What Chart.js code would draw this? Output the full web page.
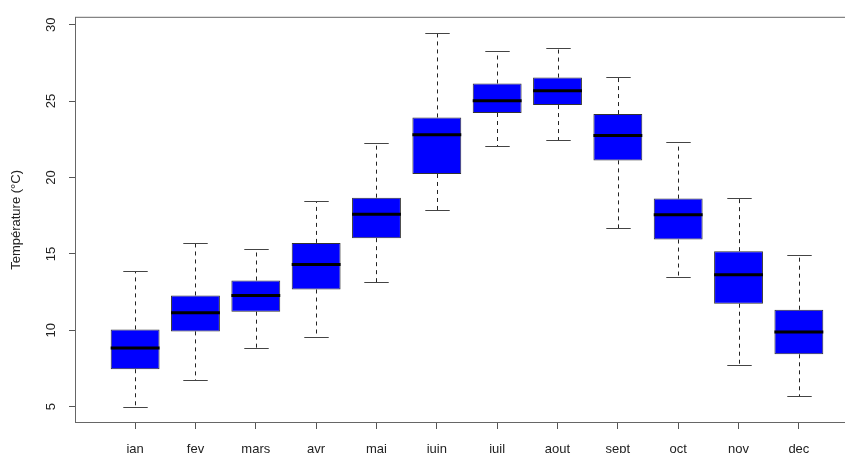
<!DOCTYPE html>
<html lang="fr">

<head>
  <meta charset="UTF-8">
  <title>Température mensuelle</title>
  <style>
    html, body {
      margin: 0;
      padding: 0;
      background: #ffffff;
      overflow: hidden;
    }

    #wrap {
      width: 845px;
      height: 453px;
      overflow: hidden;
    }
  </style>
</head>

<body>
  <div id="wrap">
    <canvas id="boxChart" width="858" height="453"></canvas>
  </div>

  <script src="https://cdn.jsdelivr.net/npm/chart.js"></script>

  <script>
    /* données */
    const months = ['jan', 'fev', 'mars', 'avr', 'mai', 'juin', 'juil', 'aout', 'sept', 'oct', 'nov', 'dec']
    const mins = [5.01, 6.73, 8.84, 9.59, 13.15, 17.85, 22.06, 22.43, 16.70, 13.50, 7.73, 5.71]
    const q1s = [7.45, 9.93, 11.22, 12.67, 16.03, 20.23, 24.22, 24.74, 21.12, 15.94, 11.74, 8.43]
    const medians = [8.84, 11.15, 12.28, 14.31, 17.59, 22.80, 25.02, 25.67, 22.75, 17.57, 13.63, 9.89]
    const q3s = [10.06, 12.28, 13.26, 15.72, 18.68, 23.93, 26.15, 26.54, 24.15, 18.62, 15.18, 11.35]
    const maxs = [13.85, 15.72, 15.35, 18.44, 22.23, 29.46, 28.29, 28.46, 26.59, 22.34, 18.68, 14.92]
    const yTicks = [5, 10, 15, 20, 25, 30]

    Chart.defaults.font.family = "'Liberation Sans', Arial, sans-serif"
    Chart.defaults.font.size = 13
    Chart.defaults.color = '#222'

    /* moustaches, médianes et cadre */
    const boxPlugin = {
      id: 'boxWhiskers',
      afterDatasetsDraw(chart) {
        const ctx = chart.ctx
        const y = chart.scales.y
        const meta = chart.getDatasetMeta(0)
        ctx.save()
        months.forEach((m, i) => {
          const bar = meta.data[i]
          const cx = Math.round(bar.x) + 0.5
          const half = bar.width / 2
          const cap = half / 2
          const yMin = Math.round(y.getPixelForValue(mins[i])) + 0.5
          const yMax = Math.round(y.getPixelForValue(maxs[i])) + 0.5
          const yQ1 = y.getPixelForValue(q1s[i])
          const yQ3 = y.getPixelForValue(q3s[i])
          const yMed = y.getPixelForValue(medians[i])

          ctx.strokeStyle = '#222'
          ctx.lineWidth = 1
          ctx.setLineDash([4, 4])
          ctx.beginPath()
          ctx.moveTo(cx, yQ3)
          ctx.lineTo(cx, yMax)
          ctx.moveTo(cx, yQ1)
          ctx.lineTo(cx, yMin)
          ctx.stroke()

          ctx.setLineDash([])
          ctx.strokeStyle = '#444'
          ctx.beginPath()
          ctx.moveTo(cx - cap, yMax)
          ctx.lineTo(cx + cap, yMax)
          ctx.moveTo(cx - cap, yMin)
          ctx.lineTo(cx + cap, yMin)
          ctx.stroke()

          ctx.strokeStyle = '#000'
          ctx.lineWidth = 3
          ctx.beginPath()
          ctx.moveTo(bar.x - half, yMed)
          ctx.lineTo(bar.x + half, yMed)
          ctx.stroke()
        })
        const a = chart.chartArea
        ctx.strokeStyle = '#666'
        ctx.lineWidth = 1
        ctx.strokeRect(a.left - 0.5, a.top - 0.5, a.right - a.left + 1, a.bottom - a.top + 1)
        ctx.restore()
      }
    }

    const ctx = document.getElementById('boxChart')
    new Chart(ctx, {
      type: 'bar',
      data: {
        datasets: [{
          label: 'Température',
          data: months.map((m, i) => ({ x: i + 1, y: [q1s[i], q3s[i]] })),
          backgroundColor: '#0000ff',
          borderColor: '#333',
          borderWidth: 1,
          borderSkipped: false,
          categoryPercentage: 0.81,
          barPercentage: 1
        }]
      },
      options: {
        responsive: false,
        animation: false,
        layout: { padding: { top: 17, right: 0, left: 0, bottom: 0 } },
        plugins: {
          legend: { display: false },
          tooltip: { enabled: false }
        },
        scales: {
          x: {
            type: 'linear',
            offset: false,
            min: 0.02,
            max: 12.98,
            afterBuildTicks: (scale) => { scale.ticks = months.map((m, i) => ({ value: i + 1 })) },
            afterFit: (scale) => { scale.height = 31 },
            ticks: {
              callback: (value, index) => months[index],
              maxRotation: 0,
              autoSkip: false,
              padding: 13,
              color: '#222'
            },
            grid: { offset: false, drawOnChartArea: false, drawTicks: true, tickLength: 7, color: '#555' },
            border: { display: false }
          },
          y: {
            min: 4.0,
            max: 30.45,
            afterBuildTicks: (scale) => { scale.ticks = yTicks.map(v => ({ value: v })) },
            afterFit: (scale) => { scale.width = 76 },
            ticks: {
              minRotation: 90,
              maxRotation: 90,
              crossAlign: 'center',
              padding: 10,
              color: '#222'
            },
            title: {
              display: true,
              text: 'Température (°C)',
              color: '#222',
              font: { size: 13 },
              padding: { top: 9, bottom: 0 }
            },
            grid: { drawOnChartArea: false, drawTicks: true, tickLength: 7, color: '#555' },
            border: { display: false }
          }
        }
      },
      plugins: [boxPlugin]
    });
  </script>
</body>

</html>
